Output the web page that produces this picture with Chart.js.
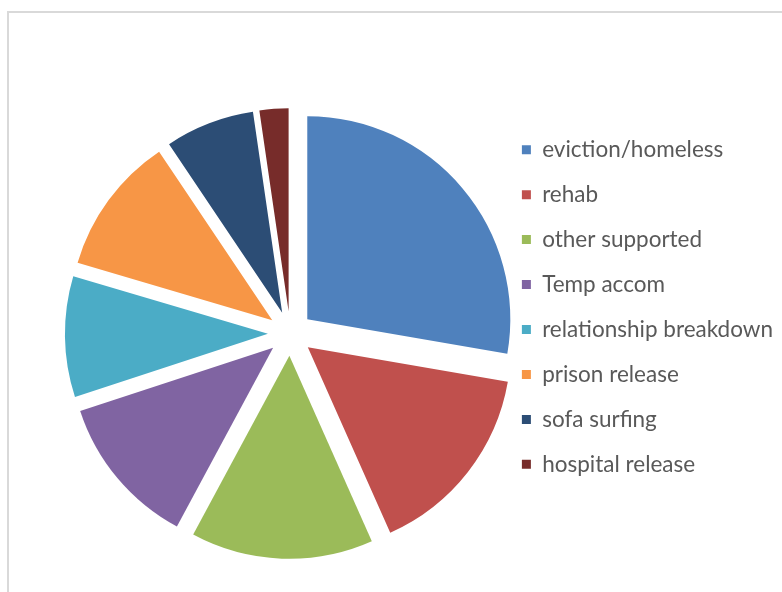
<!DOCTYPE html>
<html>
<head>
<meta charset="utf-8">
<script src="https://cdn.jsdelivr.net/npm/chart.js@4/dist/chart.umd.min.js"></script>
<style>
  html, body { margin: 0; padding: 0; background: #ffffff; }
  #wrap { position: relative; width: 782px; height: 592px; overflow: hidden; background: #ffffff; }
  #frame { position: absolute; left: 7px; top: 11px; width: 800px; height: 600px;
           border-left: 2px solid #d9d9d9; border-top: 2px solid #d9d9d9; box-sizing: border-box; }
  #c { position: absolute; left: 0; top: 0; }
</style>
</head>
<body>
<div id="wrap">
  <div id="frame"></div>
  <canvas id="c" width="782" height="592"></canvas>
</div>
<script>
// ---- data ----
const categories = [
  "eviction/homeless",
  "rehab",
  "other supported",
  "Temp accom",
  "relationship breakdown",
  "prison release",
  "sofa surfing",
  "hospital release"
];
const shares = [27.7, 15.6, 14.5, 12.1, 9.6, 11.0, 7.1, 2.3];
const sliceColors = ["#4F81BD", "#C0504D", "#9BBB59", "#8064A2", "#4BACC6", "#F79646", "#2C4D75", "#772C2A"];

// ---- style ----
const PIE_RADIUS = 203;
const EXPLODE = 22.3;

const explodePlugin = {
  id: 'explode',
  afterDatasetUpdate(chart, args) {
    args.meta.data.forEach(arc => {
      const mid = (arc.startAngle + arc.endAngle) / 2;
      arc.x += EXPLODE * Math.cos(mid);
      arc.y += EXPLODE * Math.sin(mid);
    });
  }
};

new Chart(document.getElementById('c'), {
  type: 'pie',
  data: {
    labels: categories,
    datasets: [{
      data: shares,
      backgroundColor: sliceColors,
      borderWidth: 0,
      hoverOffset: 0
    }]
  },
  options: {
    responsive: false,
    animation: false,
    radius: PIE_RADIUS,
    layout: { padding: { left: 81, right: -1, top: 116, bottom: 41 } },
    plugins: {
      tooltip: { enabled: false },
      legend: {
        position: 'right',
        align: 'start',
        labels: {
          boxWidth: 9,
          boxHeight: 9,
          padding: 22.45,
          color: '#595959',
          font: { family: 'Lato', size: 22.5 }
        }
      }
    }
  },
  plugins: [explodePlugin]
});
</script>
</body>
</html>
